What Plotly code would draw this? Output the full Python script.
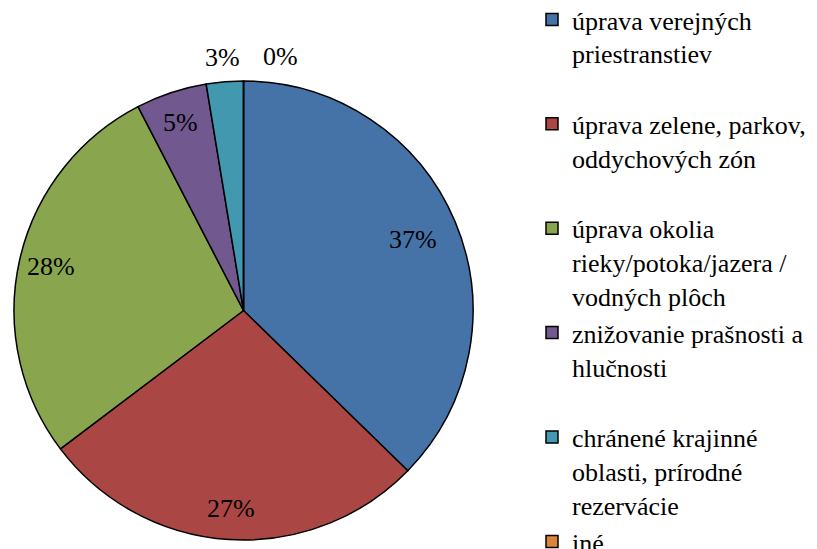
import math
import plotly.graph_objects as go

categories = [
    "úprava verejných<br>priestranstiev<br>\u00a0",
    "úprava zelene, parkov,<br>oddychových zón<br>\u00a0",
    "úprava okolia<br>rieky/potoka/jazera /<br>vodných plôch",
    "znižovanie prašnosti a<br>hlučnosti<br>\u00a0",
    "chránené krajinné<br>oblasti, prírodné<br>rezervácie",
    "iné",
]
values = [37.3, 27.4, 27.7, 5.0, 2.6, 0.0]
colors = ["#4572A7", "#AA4643", "#89A54E", "#71588F", "#4198AF", "#DB843D"]

W, H = 817, 549
OFF = 8  # page body margin
FONT = "Liberation Serif"

# pie geometry (figure pixels)
cx, cy, R = 243.5 - OFF, 310.5 - OFF, 229.5
dom_x = [(cx - R) / W, (cx + R) / W]
dom_y = [(H - cy - R) / H, (H - cy + R) / H]

fig = go.Figure()
fig.add_trace(go.Pie(
    labels=categories,
    values=values,
    sort=False,
    direction="clockwise",
    rotation=0,
    marker=dict(colors=colors, line=dict(color="black", width=1.5)),
    textinfo="none",
    hoverinfo="label+percent",
    domain=dict(x=dom_x, y=dom_y),
))

# data labels computed from the slice angles
label_r = [0.80, 0.865, 0.86, 0.865, 1.107, 1.107]
label_xshift = [0, 0, 0, 0, 0, 37]
total = sum(values)
cum = 0.0
for i, v in enumerate(values):
    mid = (cum + v / 2) / total
    cum += v
    ang = 2 * math.pi * mid
    px = cx + label_r[i] * R * math.sin(ang)
    py = cy - label_r[i] * R * math.cos(ang)
    fig.add_annotation(
        x=px / W, y=1 - py / H, xref="paper", yref="paper",
        xanchor="center", yanchor="middle",
        text=f"{v:.0f}%", showarrow=False, xshift=label_xshift[i],
        font=dict(family=FONT, size=26, color="black"),
    )

fig.update_layout(
    width=W, height=H,
    margin=dict(l=0, r=0, t=0, b=0, autoexpand=False),
    paper_bgcolor="white",
    plot_bgcolor="white",
    font=dict(family=FONT, size=26, color="black"),
    legend=dict(
        x=(572 - OFF - 40) / W, y=1 + 12 / H, xanchor="left", yanchor="top",
        valign="top",
        maxheight=1000,
        font=dict(family=FONT, size=26, color="black"),
        bgcolor="rgba(0,0,0,0)",
    ),
    showlegend=True,
)

fig.write_html("out.html")
